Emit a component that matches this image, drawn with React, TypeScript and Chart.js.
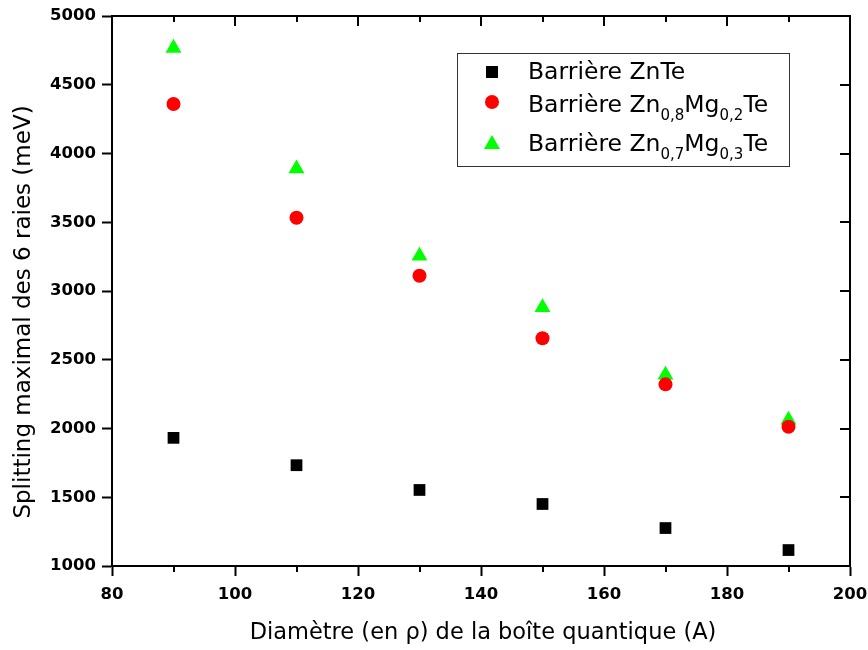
import React, { useEffect, useRef } from "react";
import { Chart, registerables } from "chart.js";

Chart.register(...registerables);

const diameters = [90, 110, 130, 150, 170, 190];
const splitZnTe = [1932, 1733, 1553, 1451, 1276, 1116];
const splitZn08Mg02 = [4360, 3533, 3111, 2656, 2321, 2013];
const splitZn07Mg03 = [4767, 3890, 3255, 2880, 2390, 2062];

const xMin = 80;
const xMax = 200;
const xStep = 20;
const xMinorStep = 10;
const yMin = 1000;
const yMax = 5000;
const yStep = 500;

const xTitle = "Diamètre (en ρ) de la boîte quantique (A)";
const yTitle = "Splitting maximal des 6 raies (meV)";

type Part = { t: string; sub?: boolean };
const legendRows: { marker: string; color: string; parts: Part[] }[] = [
  { marker: "rect", color: "#000000", parts: [{ t: "Barrière ZnTe" }] },
  {
    marker: "circle",
    color: "#ff0000",
    parts: [{ t: "Barrière Zn" }, { t: "0,8", sub: true }, { t: "Mg" }, { t: "0,2", sub: true }, { t: "Te" }],
  },
  {
    marker: "triangle",
    color: "#00ff00",
    parts: [{ t: "Barrière Zn" }, { t: "0,7", sub: true }, { t: "Mg" }, { t: "0,3", sub: true }, { t: "Te" }],
  },
];

const FONT = "'DejaVu Sans', 'Liberation Sans', Arial, sans-serif";

const framePlugin = {
  id: "frame",
  afterDraw(chart: any) {
    const { ctx, chartArea } = chart;
    const { left, right, top, bottom } = chartArea;
    const xs = chart.scales.x;
    const ys = chart.scales.y;
    ctx.save();
    ctx.strokeStyle = "#000";
    ctx.lineWidth = 2;
    ctx.beginPath();
    ctx.moveTo(left, top);
    ctx.lineTo(right, top);
    ctx.lineTo(right, bottom);
    ctx.stroke();
    ctx.beginPath();
    for (let v = xMin; v <= xMax; v += xMinorStep) {
      const px = Math.round(xs.getPixelForValue(v));
      const major = (v - xMin) % xStep === 0;
      const len = major ? 10 : 6;
      ctx.moveTo(px, top);
      ctx.lineTo(px, top + len);
      if (!major) {
        ctx.moveTo(px, bottom);
        ctx.lineTo(px, bottom + 6);
      }
    }
    for (let v = yMin; v <= yMax; v += yStep) {
      const py = Math.round(ys.getPixelForValue(v));
      ctx.moveTo(right, py);
      ctx.lineTo(right - 10, py);
    }
    ctx.stroke();

    // axis titles
    ctx.fillStyle = "#000";
    ctx.font = `22.5px ${FONT}`;
    ctx.textAlign = "center";
    ctx.textBaseline = "alphabetic";
    ctx.fillText(xTitle, 483, 639);
    ctx.save();
    ctx.translate(30, 312);
    ctx.rotate(-Math.PI / 2);
    ctx.font = `23px ${FONT}`;
    ctx.fillText(yTitle, 0, 0);
    ctx.restore();

    // legend
    const bx = 457, by = 53, bw = 332, bh = 113;
    ctx.fillStyle = "#fff";
    ctx.fillRect(bx, by, bw, bh);
    ctx.strokeStyle = "#333";
    ctx.lineWidth = 1;
    ctx.strokeRect(bx + 0.5, by + 0.5, bw, bh);
    const markerX = 492;
    const markerY = [72, 102, 142];
    const baselines = [79, 112, 151];
    legendRows.forEach((row, i) => {
      ctx.fillStyle = row.color;
      const my = markerY[i];
      ctx.beginPath();
      if (row.marker === "rect") {
        ctx.rect(markerX - 6, my - 6, 12, 12);
      } else if (row.marker === "circle") {
        ctx.arc(markerX, my, 7, 0, Math.PI * 2);
      } else {
        ctx.moveTo(markerX, my - 7);
        ctx.lineTo(markerX + 8, my + 7);
        ctx.lineTo(markerX - 8, my + 7);
        ctx.closePath();
      }
      ctx.fill();
      ctx.fillStyle = "#000";
      ctx.textAlign = "left";
      let tx = 528;
      row.parts.forEach((p) => {
        ctx.font = p.sub ? `15px ${FONT}` : `23.5px ${FONT}`;
        ctx.fillText(p.t, tx, baselines[i] + (p.sub ? 8 : 0));
        tx += ctx.measureText(p.t).width;
      });
    });
    ctx.restore();
  },
};

export default function App() {
  const canvasRef = useRef<HTMLCanvasElement | null>(null);

  useEffect(() => {
    const canvas = canvasRef.current;
    if (!canvas) return;
    const mk = (label: string, ys: number[], color: string, style: string, radius: number) => ({
      label,
      data: diameters.map((x, i) => ({ x, y: ys[i] })),
      backgroundColor: color,
      borderColor: color,
      pointStyle: style,
      pointRadius: radius,
      pointBorderWidth: 0,
      showLine: false,
    });
    const tickFont = { family: FONT, size: 16.5, weight: "bold" as const };
    const plain = (v: any) => String(v);
    const chart = new Chart(canvas, {
      type: "scatter",
      data: {
        datasets: [
          mk("Barrière ZnTe", splitZnTe, "#000000", "rect", 8.3),
          mk("Barrière Zn0,8Mg0,2Te", splitZn08Mg02, "#ff0000", "circle", 7),
          mk("Barrière Zn0,7Mg0,3Te", splitZn07Mg03, "#00ff00", "triangle", 9.2),
        ],
      },
      options: {
        responsive: false,
        animation: false,
        layout: { padding: { left: 0, right: 18, top: 16, bottom: 0 } },
        plugins: { legend: { display: false }, tooltip: { enabled: false } },
        scales: {
          x: {
            type: "linear",
            min: xMin,
            max: xMax,
            ticks: { stepSize: xStep, font: tickFont, color: "#000", padding: 9, callback: plain },
            grid: { drawOnChartArea: false, tickLength: 10, tickWidth: 2, tickColor: "#000" },
            border: { display: true, color: "#000", width: 2 },
            afterFit: (s: any) => {
              s.height = 84;
              s.paddingLeft = 0;
              s.paddingRight = 0;
            },
          },
          y: {
            type: "linear",
            min: yMin,
            max: yMax,
            ticks: { stepSize: yStep, font: tickFont, color: "#000", padding: 6, callback: plain },
            grid: { drawOnChartArea: false, tickLength: 10, tickWidth: 2, tickColor: "#000" },
            border: { display: true, color: "#000", width: 2 },
            afterFit: (s: any) => {
              s.width = 112;
              s.paddingTop = 0;
              s.paddingBottom = 0;
            },
          },
        },
      },
      plugins: [framePlugin],
    });
    return () => chart.destroy();
  }, []);

  return (
    <div style={{ position: "fixed", left: 0, top: 0, width: 868, height: 650, background: "#fff" }}>
      <canvas ref={canvasRef} width={868} height={650} style={{ display: "block" }} />
    </div>
  );
}
